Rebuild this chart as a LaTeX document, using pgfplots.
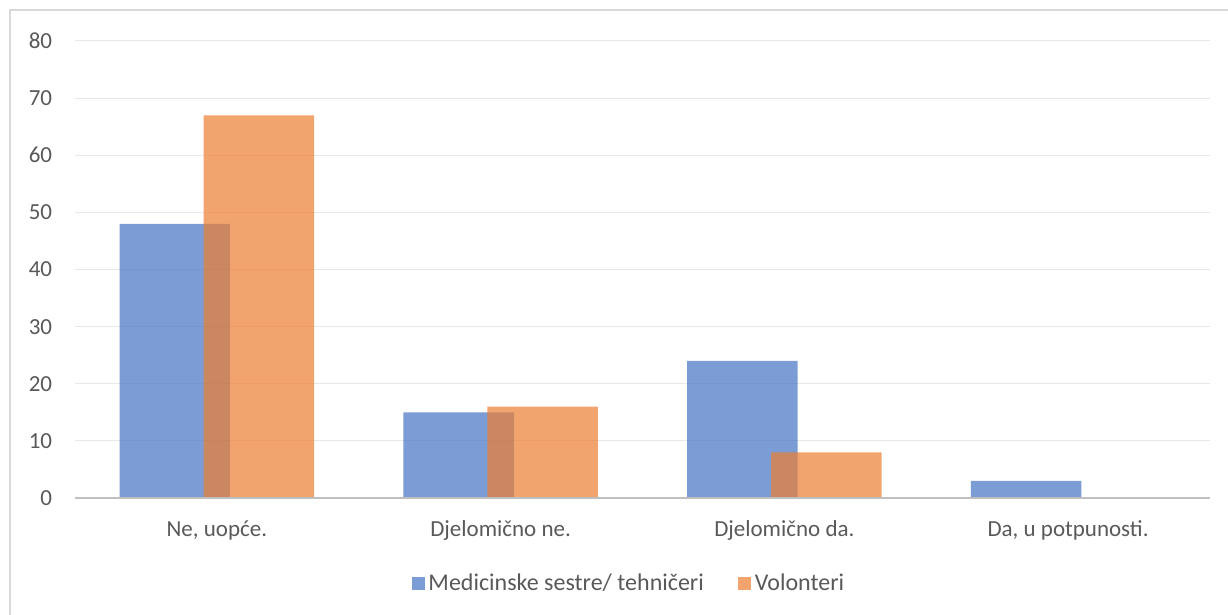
\documentclass[border=0pt]{standalone}
\usepackage{pgfplots}
\pgfplotsset{compat=1.18}
\usepackage{fontspec}
\setmainfont{Carlito}
\definecolor{cblue}{HTML}{4472C4}
\definecolor{corange}{HTML}{ED7D31}
\definecolor{ctext}{HTML}{595959}
\begin{document}
\fontsize{23pt}{27pt}\selectfont
\begin{tikzpicture}
\useasboundingbox (0,0) rectangle (1228pt,615pt);
\draw[color=black!15, line width=1.5pt] (10pt,-20pt) rectangle (1260pt,605pt);
\begin{axis}[
  at={(75pt,117pt)}, anchor=south west,
  scale only axis, width=1135pt, height=457pt,
  xmin=-0.5, xmax=3.5, ymin=0, ymax=80,
  ytick={0,10,...,80}, xtick={0,1,2,3},
  xticklabels={{Ne, uopće.},{Djelomično ne.},{Djelomično da.},{Da, u potpunosti.}},
  major tick length=0pt,
  axis line style={draw=none},
  ymajorgrids, grid style={color=black!9, line width=1pt},
  tick label style={color=ctext},
  /pgf/number format/assume math mode=true,
  y tick label style={xshift=-15pt},
  x tick label style={yshift=-15pt},
  legend style={at={(0.488,-0.188)}, anchor=center, legend columns=2, draw=none,
    text=ctext, font=\fontsize{24pt}{28pt}\selectfont,
    /tikz/every even column/.append style={column sep=32pt}},
  legend image code/.code={\fill[#1] (0pt,-6.5pt) rectangle (13pt,6.5pt);},
  clip=false,
]
\addplot[ybar, bar width=0.39, bar shift=-0.148, fill=cblue, draw=none, fill opacity=0.7]
  coordinates {(0,48) (1,15) (2,24) (3,3)};
\addlegendentry{\hspace{2pt}Medicinske sestre/ tehničeri}
\addplot[ybar, bar width=0.39, bar shift=0.148, fill=corange, draw=none, fill opacity=0.7]
  coordinates {(0,67) (1,16) (2,8) (3,0)};
\addlegendentry{\hspace{2pt}Volonteri}
\draw[color=black!25, line width=2pt] (axis cs:-0.5,0) -- (axis cs:3.5,0);
\end{axis}
\end{tikzpicture}
\end{document}
